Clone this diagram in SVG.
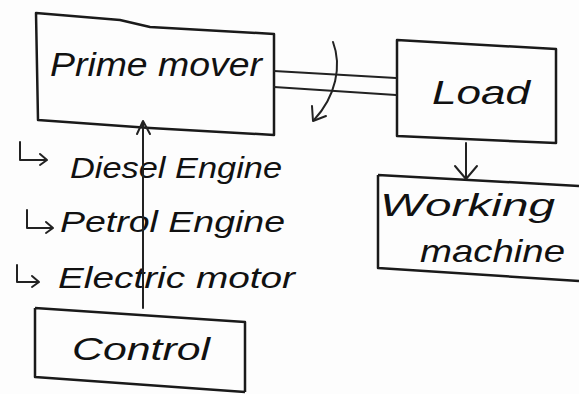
<svg xmlns="http://www.w3.org/2000/svg" width="579" height="394" viewBox="0 0 579 394">
<style>
.box{fill:none;stroke:#1a1a1a;stroke-width:2.5;stroke-linejoin:round}
.ln{fill:none;stroke:#222;stroke-width:2;stroke-linecap:round;stroke-linejoin:round}
.t{font-family:"Liberation Sans",Arial,sans-serif;fill:#111;font-style:italic}
</style>
<rect width="579" height="394" fill="#fdfdfd"/>
<g id="prime-mover">
<path class="box" d="M36,13 L120,20 L150,27 L274,34 L274,135 L150,128 L38,120 Z"/>
<text class="t" x="50" y="76" font-size="34" textLength="212" lengthAdjust="spacingAndGlyphs">Prime mover</text>
</g>
<g id="load">
<path class="box" d="M397,40 L556,49 L556,143 L397,136 Z"/>
<text class="t" x="432" y="104" font-size="34" textLength="98" lengthAdjust="spacingAndGlyphs">Load</text>
</g>
<g id="working-machine">
<path class="box" d="M378,175 L579,186 M378,175 L378,268 L579,281"/>
<text class="t" x="380" y="216" font-size="32" textLength="175" lengthAdjust="spacingAndGlyphs">Working</text>
<text class="t" x="420" y="262" font-size="32" textLength="145" lengthAdjust="spacingAndGlyphs">machine</text>
</g>
<g id="control">
<path class="box" d="M35,308 L245,322 L245,392 M35,308 L35,377 L245,392"/>
<text class="t" x="72" y="360" font-size="32" textLength="138" lengthAdjust="spacingAndGlyphs">Control</text>
</g>
<g id="types">
<text class="t" x="70" y="178" font-size="30" textLength="212" lengthAdjust="spacingAndGlyphs">Diesel Engine</text>
<text class="t" x="60" y="232" font-size="30" textLength="225" lengthAdjust="spacingAndGlyphs">Petrol Engine</text>
<text class="t" x="58" y="288" font-size="30" textLength="237" lengthAdjust="spacingAndGlyphs">Electric motor</text>
</g>
<g id="connectors">
<path class="ln" d="M274,71 L396,78"/>
<path class="ln" d="M274,87 L396,95"/>
<path class="ln" d="M333,42 C342,66 336,96 314,120"/>
<path class="ln" d="M312,106 L313,121 L326,116"/>
<path class="ln" d="M466,143 L466,178"/>
<path class="ln" d="M455,166 L466,179 L477,166"/>
<path class="ln" d="M143,308 L143,122"/>
<path class="ln" d="M137,134 L143,121 L150,134"/>
<path class="ln" d="M20,142 L20,160 L46,160 M40,154 L47,160 L40,165"/>
<path class="ln" d="M27,210 L27,228 L52,228 M46,222 L53,228 L46,233"/>
<path class="ln" d="M17,265 L17,282 L38,282 M32,276 L39,282 L32,287"/>
</g>
</svg>
